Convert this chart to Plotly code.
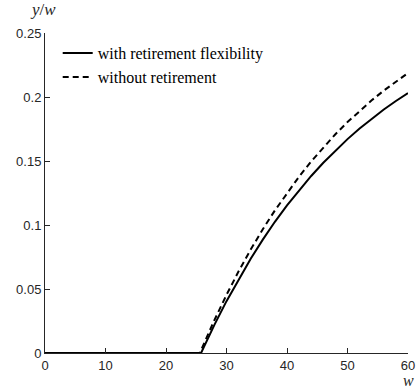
import plotly.graph_objects as go

# Ratio y/w against wealth w for the two model variants
w_flex = [0, 25.8, 26, 28, 30, 32, 34, 36, 38, 40, 42, 44, 46, 48, 50, 52, 54, 56, 58, 60]
y_flex = [0, 0, 0.0021, 0.0220, 0.0405, 0.0577, 0.0737, 0.0886, 0.1025, 0.1153,
          0.1272, 0.1383, 0.1486, 0.1582, 0.1671, 0.1754, 0.1831, 0.1902, 0.1969, 0.2030]

w_noret = [0, 25.6, 26, 28, 30, 32, 34, 36, 38, 40, 42, 44, 46, 48, 50, 52, 54, 56, 58, 60]
y_noret = [0, 0, 0.0044, 0.0257, 0.0454, 0.0638, 0.0808, 0.0967, 0.1114, 0.1251,
           0.1378, 0.1497, 0.1606, 0.1709, 0.1804, 0.1892, 0.1974, 0.2050, 0.2121, 0.2187]

x_ticks = [0, 10, 20, 30, 40, 50, 60]
y_ticks = [0, 0.05, 0.1, 0.15, 0.2, 0.25]
y_tick_text = ["0", "0.05", "0.1", "0.15", "0.2", "0.25"]

axis_color = "#262626"
tick_font = dict(family="Liberation Sans, Arial, sans-serif", size=13, color=axis_color)
serif = "Liberation Serif, Times New Roman, serif"

fig = go.Figure()
fig.add_trace(go.Scatter(
    x=w_flex, y=y_flex, mode="lines", name="with retirement flexibility",
    line=dict(color="black", width=2),
))
fig.add_trace(go.Scatter(
    x=w_noret, y=y_noret, mode="lines", name="without retirement",
    line=dict(color="black", width=2, dash="6px,4px"),
))

fig.update_layout(
    width=417, height=389,
    margin=dict(l=45, r=9, t=33, b=36, autoexpand=False),
    paper_bgcolor="white", plot_bgcolor="white",
    showlegend=True,
    legend=dict(
        x=0.035, y=0.99, xanchor="left", yanchor="top",
        bgcolor="rgba(0,0,0,0)", borderwidth=0,
        font=dict(family=serif, size=16, color="black"),
        itemwidth=30, tracegroupgap=0,
    ),
    xaxis=dict(
        range=[0, 60], tickvals=x_ticks, ticks="inside", ticklen=5,
        tickcolor=axis_color, showline=True, linecolor=axis_color, linewidth=1,
        showgrid=False, zeroline=False, tickfont=tick_font, mirror=False,
        automargin=False,
    ),
    yaxis=dict(
        range=[0, 0.25], tickvals=y_ticks, ticktext=y_tick_text, ticks="inside",
        ticklen=5, tickcolor=axis_color, showline=True, linecolor=axis_color,
        linewidth=1, showgrid=False, zeroline=False, tickfont=tick_font, mirror=False,
        automargin=False,
    ),
    annotations=[
        dict(text="<i>y</i>/<i>w</i>", xref="paper", yref="paper", x=-0.005, y=1.0,
             xanchor="center", yanchor="bottom", yshift=12, showarrow=False,
             font=dict(family=serif, size=17, color=axis_color)),
        dict(text="<i>w</i>", xref="paper", yref="paper", x=1.0, y=0.0,
             xanchor="center", yanchor="top", yshift=-17, showarrow=False,
             font=dict(family=serif, size=16, color=axis_color)),
    ],
)

fig.write_html("out.html")
